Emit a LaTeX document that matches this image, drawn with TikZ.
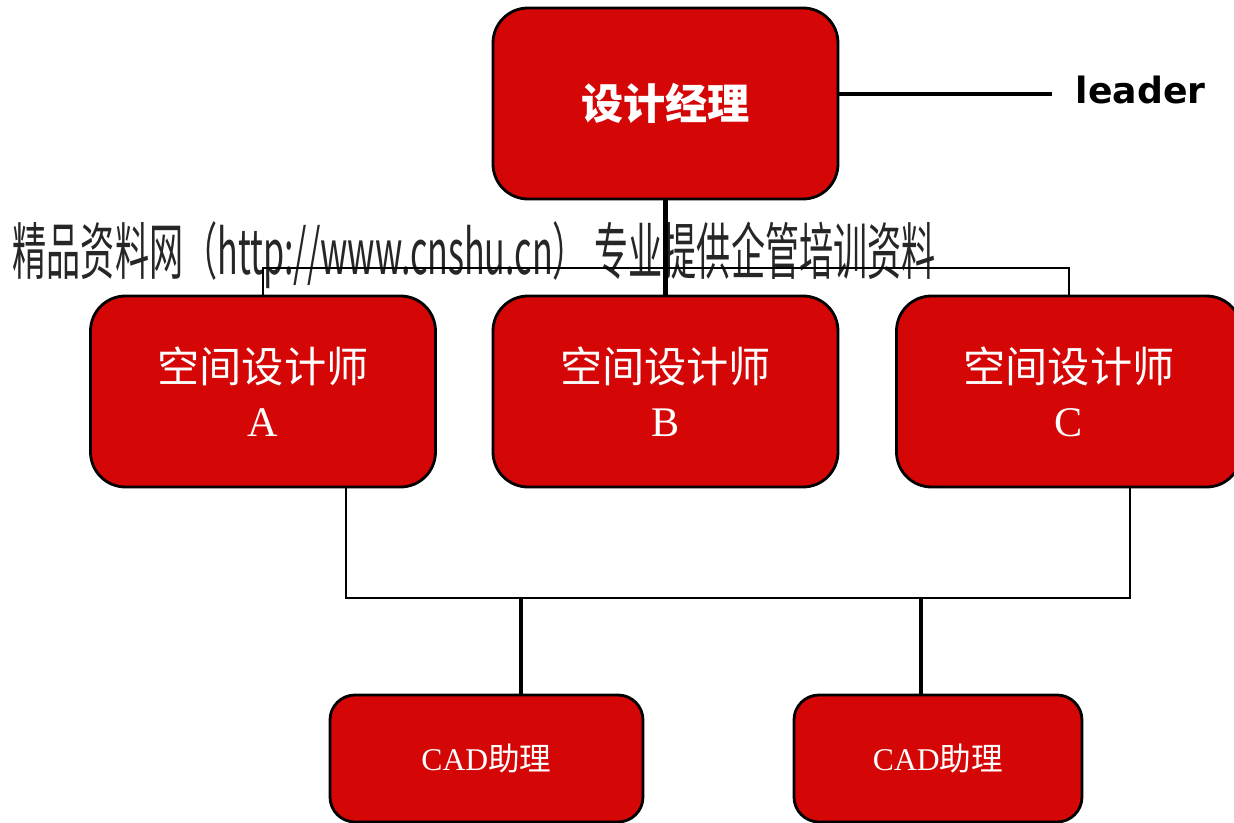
\documentclass[tikz,border=0pt]{standalone}
\usepackage{fontspec}
\usepackage{graphicx}
\usepackage{tikz}
\usetikzlibrary{positioning}
\setmainfont{Liberation Serif}
\newfontfamily\cjk{Noto Sans CJK SC}
\newfontfamily\leadfont{DejaVu Sans}
\definecolor{boxred}{RGB}{212,6,6}

\begin{document}
\begin{tikzpicture}[node distance=3cm,on grid,
    box/.style={draw=black,line width=0.8pt,fill=boxred,rounded corners=0.35cm,
        minimum width=3.45cm,minimum height=1.91cm,inner sep=0pt,
        text=white,align=center,font=\fontsize{12}{15.4}\selectfont},
    cad/.style={box,rounded corners=0.25cm,minimum height=1.27cm,
        font=\fontsize{9}{11}\selectfont},
    wire/.style={line width=0.8pt},
    bar/.style={line width=1.4pt}]
   \useasboundingbox (0,0) rectangle (12.34,-8.23);

   % watermark
   \node[anchor=base west,inner sep=0pt,text=black!85] (mark) at (0.12,-2.75)
       {\resizebox{9.23cm}{0.53cm}{\cjk 精品资料网（http://www.cnshu.cn） 专业提供企管培训资料}};

   \node[box] (mgr) at (6.655,-1.035) {\cjk\bfseries 设计经理};
   \node[box] (desB) [below=2.88 of mgr] {{\cjk 空间设计师}\\B};
   \node[box] (desA) [left=4.025 of desB] {{\cjk 空间设计师}\\A};
   \node[box] (desC) [right=4.035 of desB] {{\cjk 空间设计师}\\C};
   \node[cad, minimum width=3.13cm] (cad1) at (4.865,-7.585) {CAD{\cjk 助理}};
   \node[cad, minimum width=2.88cm] (cad2) at (9.38,-7.585) {CAD{\cjk 助理}};
   \node[font=\leadfont\bfseries\fontsize{10.3}{12}\selectfont,inner sep=0.23cm,anchor=west]
       (lead) at (10.52,-0.9) {leader};

   \coordinate (busT) at (6.655,-2.68);
   \coordinate (busB) at (7.4,-5.98);
   \coordinate (dropL) at (5.21,-5.98);
   \coordinate (dropR) at (9.21,-5.98);

   % leader
   \draw[wire,line width=1pt] ([yshift=-0.04cm]mgr.east |- lead.west) -- ([yshift=-0.04cm]lead.west);
   % manager to designers
   \draw[bar] (mgr.south) -- (desB.north);
   \draw[wire] (desA.north) |- (busT) -| (desC.north);
   % designers to CAD
   \draw[wire] ([xshift=0.83cm]desA.south) |- (busB) -| ([xshift=0.61cm]desC.south);
   \draw[bar,line width=1.2pt] (dropL) -- (dropL |- cad1.north);
   \draw[bar,line width=1.2pt] (dropR) -- (dropR |- cad2.north);
\end{tikzpicture}
\end{document}
